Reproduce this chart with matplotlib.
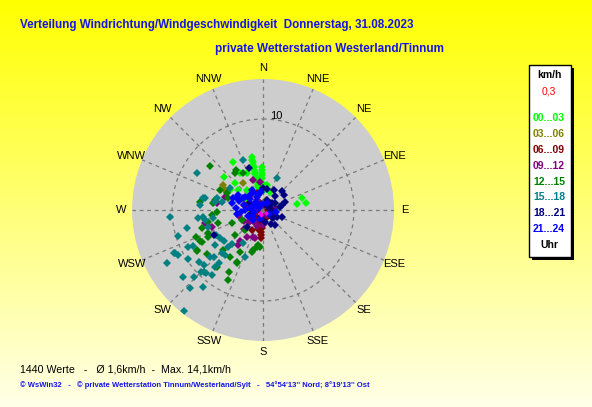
import numpy as np
import matplotlib
matplotlib.use("Agg")
import matplotlib.pyplot as plt
from matplotlib.patches import Rectangle

# wind values: (direction in degrees, speed in km/h) per hour group
h00_03_dir = [348, 348, 348, 348, 348, 348, 348, 348, 348, 348, 348, 348, 348,
              359, 358, 358, 358, 358, 0, 2, 328, 310, 314, 328, 337, 321,
              73, 81, 80, 79, 301, 309, 299, 21, 9]
h00_03_spd = [5.9, 5.65, 5.4, 5.1, 4.8, 4.55, 4.3, 4.0, 3.7, 3.4, 3.1, 2.85, 2.6,
              4.7, 4.4, 4.1, 3.8, 3.5, 2.9, 2.2, 6.2, 5.6, 4.3, 4.8, 4.4, 2.8,
              4.5, 4.8, 3.8, 1.8, 4.2, 3.5, 2.3, 2.1, 2.8]

h03_06_dir = [302, 298, 324, 90, 315, 17, 270]
h03_06_spd = [5.2, 4.7, 3.7, 1.1, 0.8, 1.1, 1.4]

h06_09_dir = [184, 184, 183, 184, 185, 184, 184, 300, 330, 250, 220, 10, 290, 200, 340, 160, 120,
              190, 195, 45, 260, 230, 180, 175, 210, 280, 90, 315]
h06_09_spd = [0.8, 1.2, 1.6, 2.0, 2.4, 2.8, 3.1, 0.8, 1.2, 1.5, 1.0, 0.6, 1.8, 1.4, 2.0, 0.9, 1.3,
              1.6, 2.2, 1.1, 0.7, 1.9, 1.0, 1.4, 2.5, 1.7, 0.5, 2.1]

h09_12_dir = [342, 257, 251, 217, 211, 200, 255, 216, 196, 80, 289, 354, 279, 128,
              250, 280, 30, 230, 300, 210, 150, 240, 200, 255, 330, 270, 285, 180, 225]
h09_12_spd = [3.5, 6.5, 5.9, 4.2, 3.4, 3.2, 6.4, 4.7, 3.2, 1.3, 4.4, 3.1, 5.1, 1.3,
              1.0, 1.5, 0.8, 2.0, 1.2, 1.7, 0.6, 2.4, 1.9, 2.7, 1.3, 0.9, 2.2, 1.6, 3.0]

h12_15_dir = [310, 326, 295, 295, 244, 248, 244, 209, 206, 189, 185, 207, 242, 238, 194, 188, 195,
              207, 219, 323, 282, 278, 332, 264, 254, 247, 244, 254, 247, 228, 222, 239, 232,
              225, 215, 209, 277, 258, 268, 289]
h12_15_spd = [7.6, 5.3, 5.2, 4.4, 7.7, 8.0, 6.7, 7.8, 6.5, 4.1, 4.1, 8.6, 7.6, 8.6, 4.5, 3.9, 4.8,
              6.4, 8.0, 5.1, 5.4, 5.5, 4.6, 5.6, 5.1, 3.7, 2.6, 7.0, 6.6, 4.1, 2.9, 8.5, 7.8,
              6.2, 6.3, 5.3, 7.0, 6.2, 5.1, 4.1]

h15_18_dir = [218, 223, 241, 244, 266, 299, 338, 275, 257, 253, 244, 244, 243, 237, 226, 218, 224,
              222, 218, 227, 226, 220, 228, 231, 223, 237, 242, 201, 211, 263, 260, 253, 279,
              24, 282, 304, 285, 281, 263, 261, 281, 234, 224, 222, 231, 242, 230, 225, 220, 220]
h15_18_spd = [14.1, 11.7, 12.1, 10.8, 10.3, 8.3, 5.9, 6.9, 8.6, 9.8, 10.9, 9.2, 8.7, 9.8, 10.6, 10.7, 9.4,
              9.3, 9.1, 8.8, 7.5, 7.6, 7.8, 5.5, 5.6, 5.6, 5.9, 5.5, 4.2, 7.2, 6.5, 6.3, 5.3,
              3.8, 6.5, 4.4, 5.2, 4.6, 6.6, 5.6, 6.7, 6.5, 6.5, 5.1, 9.0, 10.6, 11.5, 9.7, 8.2, 6.5]

h18_21_dir = [342, 75, 0, 52, 129, 243, 223, 60, 40, 100, 150, 20, 30, 200, 110, 300, 55, 170, 80,
              80, 70, 130, 40, 10, 250, 45, 115, 140]
h18_21_spd = [4.9, 2.2, 2.4, 1.25, 1.4, 6.1, 2.6, 1.5, 2.0, 1.0, 1.8, 1.2, 2.5, 0.8, 2.2, 1.6, 2.8, 1.3, 0.9,
              1.9, 2.6, 1.1, 0.6, 2.3, 1.4, 3.0, 1.7, 2.1]

h21_24_dir = [306, 292, 283, 319, 310, 295, 331, 335, 351, 260, 280, 270, 320, 350, 250, 300, 100,
              200, 285, 30, 340, 275, 290, 240, 265, 310, 300, 330, 225, 300, 262, 290, 355, 120]
h21_24_spd = [2.4, 3.6, 3.5, 2.2, 0.9, 3.1, 2.5, 1.6, 2.0, 1.0, 1.5, 2.0, 1.2, 0.7, 1.8, 2.6, 1.4,
              1.1, 2.2, 0.9, 1.7, 3.0, 2.8, 1.3, 2.4, 1.9, 0.5, 2.3, 1.6, 3.2, 2.9, 1.2, 2.0, 0.8]

calm_dir = [225, 135, 200]
calm_spd = [0.5, 0.4, 0.6]

groups = [
    ("00...03", "#00ff00", h00_03_dir, h00_03_spd),
    ("03...06", "#808000", h03_06_dir, h03_06_spd),
    ("06...09", "#800000", h06_09_dir, h06_09_spd),
    ("09...12", "#800080", h09_12_dir, h09_12_spd),
    ("12...15", "#008000", h12_15_dir, h12_15_spd),
    ("15...18", "#008080", h15_18_dir, h15_18_spd),
    ("18...21", "#000080", h18_21_dir, h18_21_spd),
    ("21...24", "#0000ff", h21_24_dir, h21_24_spd),
]

compass = ["N", "NNE", "NE", "ENE", "E", "ESE", "SE", "SSE",
           "S", "SSW", "SW", "WSW", "W", "WNW", "NW", "NNW"]
rmax = 14.4

fig = plt.figure(figsize=(5.92, 4.07), dpi=100)

# yellow gradient background
bg = fig.add_axes([0, 0, 1, 1], zorder=0)
grad = np.linspace(0, 1, 256).reshape(-1, 1)
cmap = matplotlib.colors.LinearSegmentedColormap.from_list("yel", ["#ffff00", "#ffffe8"])
bg.imshow(grad, aspect="auto", cmap=cmap, extent=[0, 1, 0, 1], origin="upper")
bg.set_xlim(0, 1)
bg.set_ylim(0, 1)
bg.axis("off")

ax = fig.add_axes([0.2230, 0.1622, 0.4426, 0.6437], projection="polar", zorder=1)
ax.set_facecolor("#cdcdcd")
ax.set_theta_zero_location("N")
ax.set_theta_direction(-1)
ax.set_ylim(0, rmax)
ax.set_rticks([10])
ax.set_yticklabels([])
ax.set_thetagrids(np.arange(0, 360, 22.5), [""] * 16)
ax.grid(True, color="#7a7a7a", linestyle=(0, (3, 3)), linewidth=0.9)
ax.spines["polar"].set_visible(False)
ax.text(np.deg2rad(4.5), 10.35, "10", fontsize=8, family="Liberation Sans", ha="left", va="center")

for i, name in enumerate(compass):
    ax.text(np.deg2rad(i * 22.5), rmax * 1.085, name, fontsize=8, family="Liberation Sans",
            ha="center", va="center", clip_on=False)

for label, col, d, s in groups:
    ax.plot(np.deg2rad(d), s, linestyle="none", marker="D", markersize=4.3,
            color=col, markeredgewidth=0)
ax.plot(np.deg2rad(calm_dir), calm_spd, linestyle="none", marker="D", markersize=2.4,
        color="#ff00ff", markeredgewidth=0)

# titles
fig.text(20 / 592, 1 - 25 / 407, "Verteilung Windrichtung/Windgeschwindigkeit  Donnerstag, 31.08.2023",
         color="#1414e6", fontsize=8.4, fontweight="bold", family="Liberation Sans", va="center")
fig.text(215 / 592, 1 - 49 / 407, "private Wetterstation Westerland/Tinnum",
         color="#1414e6", fontsize=8.45, fontweight="bold", family="Liberation Sans", va="center")

# legend box with shadow
fig.patches.append(Rectangle((532 / 592, 1 - 260 / 407), 42 / 592, 192 / 407,
                             transform=fig.transFigure, facecolor="black", zorder=2))
fig.patches.append(Rectangle((529 / 592, 1 - 257 / 407), 42 / 592, 192 / 407,
                             transform=fig.transFigure, facecolor="white", edgecolor="black",
                             linewidth=1, zorder=3))
lx = 549 / 592
fig.text(lx, 1 - 75 / 407, "km/h", fontsize=7.5, fontweight="bold", family="Liberation Sans",
         ha="center", va="center", zorder=4)
fig.text(lx, 1 - 92 / 407, "0,3", fontsize=7.5, color="red", family="Liberation Sans",
         ha="center", va="center", zorder=4)
for k, (label, col, d, s) in enumerate(groups):
    fig.text(lx, 1 - (118 + k * 15.9) / 407, label, fontsize=7.5, color=col, fontweight="bold",
             family="Liberation Sans", ha="center", va="center", zorder=4)
fig.text(lx, 1 - 245 / 407, "Uhr", fontsize=7.5, fontweight="bold", family="Liberation Sans",
         ha="center", va="center", zorder=4)

# footer
fig.text(20 / 592, 1 - 369 / 407, "1440 Werte   -   Ø 1,6km/h  -  Max. 14,1km/h",
         fontsize=7.7, family="Liberation Sans", va="center")
fig.text(20 / 592, 1 - 385 / 407,
         "© WsWin32   -   © private Wetterstation Tinnum/Westerland/Sylt   -   54°54'13'' Nord; 8°19'13'' Ost",
         fontsize=5.5, color="#1414e6", fontweight="bold", family="Liberation Sans", va="center")

fig.savefig("out.png", dpi=100)
